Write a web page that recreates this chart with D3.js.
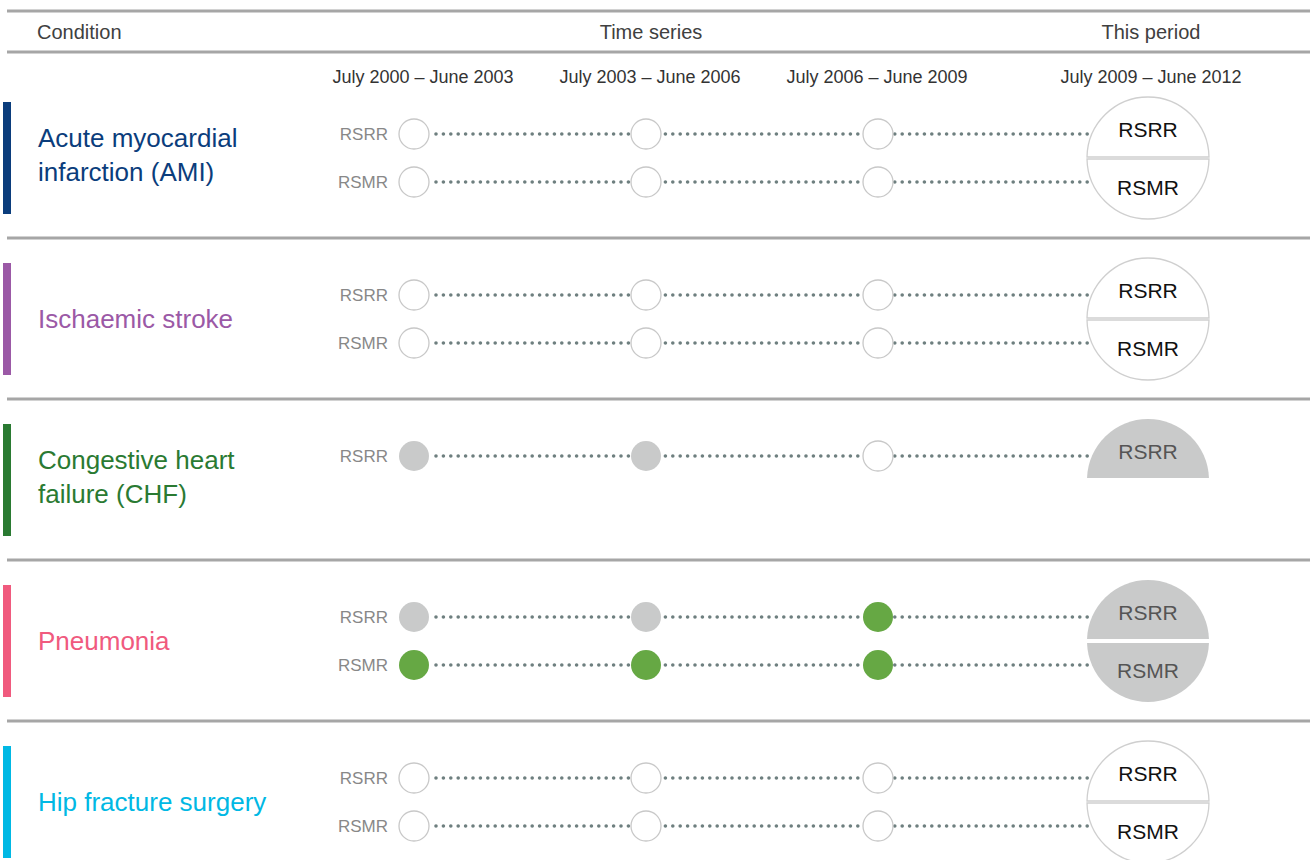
<!DOCTYPE html>
<html>
<head>
<meta charset="utf-8">
<script src="https://d3js.org/d3.v7.min.js"></script>
<style>
  body { margin: 0; background: #fff; }
  text { font-family: "Liberation Sans", Arial, sans-serif; }
</style>
</head>
<body>
<div id="chart"></div>
<script>
// data
var periods = ["July 2000 – June 2003", "July 2003 – June 2006", "July 2006 – June 2009"];
var currentPeriod = "July 2009 – June 2012";
var conditions = ["Acute myocardial|infarction (AMI)", "Ischaemic stroke", "Congestive heart|failure (CHF)", "Pneumonia", "Hip fracture surgery"];
var conditionColors = ["#0b3d7c", "#9b59a6", "#2a7a32", "#f05a7e", "#00b8e4"];
var measures = ["RSRR", "RSMR"];

// status per period: "ns" = outline, "grey" = grey fill, "better" = green
// last entry is the current period
var rsrrStatus = [
  ["ns", "ns", "ns", "ns"],
  ["ns", "ns", "ns", "ns"],
  ["grey", "grey", "ns", "grey"],
  ["grey", "grey", "better", "grey"],
  ["ns", "ns", "ns", "ns"]
];
var rsmrStatus = [
  ["ns", "ns", "ns", "ns"],
  ["ns", "ns", "ns", "ns"],
  null,
  ["better", "better", "better", "grey"],
  ["ns", "ns", "ns", "ns"]
];

var svgWidth = 1310;
var svgHeight = 860;

var svg = d3.select("#chart")
  .append("svg")
  .attr("width", svgWidth)
  .attr("height", svgHeight);

var fillFor = { ns: "#ffffff", grey: "#c9caca", better: "#66a844" };

// scales
var xScale = d3.scalePoint().domain(periods).range([414, 878]);
var xLabel = d3.scalePoint().domain(periods).range([423, 877]);
var xCurrent = 1148;
var yScale = d3.scalePoint().domain(conditions).range([158, 802]);
var rowOffset = d3.scalePoint().domain(measures).range([-24, 24]);

var smallR = 15;
var bigR = 61;

// header
svg.append("line")
  .attr("x1", 7).attr("x2", svgWidth).attr("y1", 11).attr("y2", 11)
  .attr("stroke", "#a6a6a6").attr("stroke-width", 3);
svg.append("line")
  .attr("x1", 7).attr("x2", svgWidth).attr("y1", 52).attr("y2", 52)
  .attr("stroke", "#a6a6a6").attr("stroke-width", 3);

svg.append("text").attr("x", 37).attr("y", 39)
  .attr("font-size", 20).attr("fill", "#404040").text("Condition");
svg.append("text").attr("x", 651).attr("y", 39).attr("text-anchor", "middle")
  .attr("font-size", 20).attr("fill", "#404040").text("Time series");
svg.append("text").attr("x", 1151).attr("y", 39).attr("text-anchor", "middle")
  .attr("font-size", 20).attr("fill", "#404040").text("This period");

svg.selectAll(".period")
  .data(periods)
  .enter()
  .append("text")
  .attr("class", "period")
  .attr("x", d => xLabel(d))
  .attr("y", 83)
  .attr("text-anchor", "middle")
  .attr("font-size", 18)
  .attr("fill", "#333")
  .text(d => d);
svg.append("text").attr("x", 1151).attr("y", 83).attr("text-anchor", "middle")
  .attr("font-size", 18).attr("fill", "#333").text(currentPeriod);

// half circle path, cut by a chord offset from the centre
function halfPath(cx, cy, r, gap, top) {
  var hw = Math.sqrt(r * r - gap * gap);
  var y0 = top ? cy - gap : cy + gap;
  var sweep = top ? 1 : 0;
  return "M" + (cx - hw) + "," + y0 +
    "A" + r + "," + r + " 0 0," + sweep + " " + (cx + hw) + "," + y0 + "Z";
}

conditions.forEach(function (cond, i) {
  var cy = yScale(cond);
  var g = svg.append("g");

  // separator below
  g.append("line")
    .attr("x1", 7).attr("x2", svgWidth)
    .attr("y1", cy + 80).attr("y2", cy + 80)
    .attr("stroke", "#a6a6a6").attr("stroke-width", 3);

  // coloured bar
  g.append("rect")
    .attr("x", 3).attr("y", cy - 56)
    .attr("width", 8).attr("height", 112)
    .attr("fill", conditionColors[i]);

  // condition label
  var lines = cond.split("|");
  var label = g.append("text")
    .attr("font-size", 26)
    .attr("fill", conditionColors[i]);
  lines.forEach(function (l, k) {
    label.append("tspan")
      .attr("x", 38)
      .attr("y", lines.length == 1 ? cy + 9 : cy - 11 + k * 34)
      .text(l);
  });

  var rows = [rsrrStatus[i], rsmrStatus[i]];
  rows.forEach(function (status, m) {
    if (!status) return;
    var ry = cy + rowOffset(measures[m]);

    g.append("text")
      .attr("x", 388).attr("y", ry + 6)
      .attr("text-anchor", "end")
      .attr("font-size", 17)
      .attr("fill", "#888")
      .text(measures[m]);

    // dotted connector
    g.append("line")
      .attr("x1", xScale(periods[0]) + smallR + 7)
      .attr("x2", xCurrent)
      .attr("y1", ry).attr("y2", ry)
      .attr("stroke", "#6e7f7f")
      .attr("stroke-width", 3.6)
      .attr("stroke-linecap", "round")
      .attr("stroke-dasharray", "0,7.4");

    g.selectAll(null)
      .data(periods)
      .enter()
      .append("circle")
      .attr("cx", d => xScale(d))
      .attr("cy", ry)
      .attr("r", smallR)
      .attr("fill", (d, j) => fillFor[status[j]])
      .attr("stroke", (d, j) => status[j] == "ns" ? "#c8c8c8" : "none")
      .attr("stroke-width", 1.3);
  });

  // this period big circle
  rows.forEach(function (status, m) {
    if (!status) return;
    var s = status[status.length - 1];
    var top = m == 0;
    var outlined = s == "ns";
    g.append("path")
      .attr("d", halfPath(xCurrent, cy, bigR, outlined ? 1 : 2, top))
      .attr("fill", fillFor[s])
      .attr("stroke", outlined ? "#cfcfcf" : "none")
      .attr("stroke-width", 1.3);
    g.append("text")
      .attr("x", xCurrent)
      .attr("y", top ? cy - 21 : cy + 37)
      .attr("text-anchor", "middle")
      .attr("font-size", 21)
      .attr("fill", outlined ? "#111" : "#555")
      .text(measures[m]);
  });
});
</script>
</body>
</html>
